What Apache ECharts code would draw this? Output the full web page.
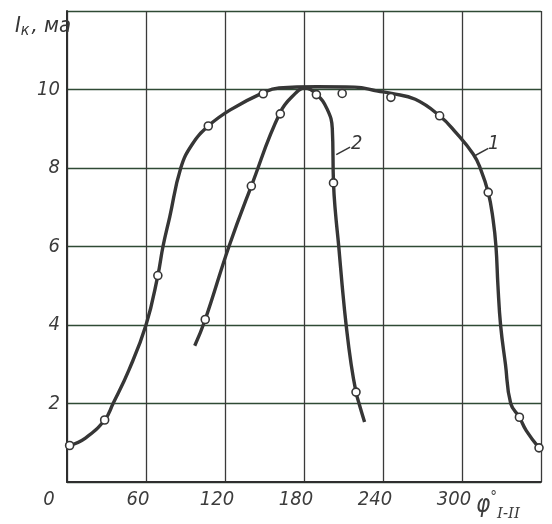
<!DOCTYPE html>
<html>
<head>
<meta charset="utf-8">
<script src="https://cdn.jsdelivr.net/npm/echarts@6/dist/echarts.min.js"></script>
<style>
  html, body { margin: 0; padding: 0; background: #fff; }
  #chart { width: 552px; height: 524px; }
</style>
</head>
<body>
<div id="chart"></div>
<script>
// curve 1: phase angle, degrees / Ik, mA
var curve1Deg = [2, 14, 28.6, 35, 47, 60, 69, 72.9, 78, 86.4, 95, 107.3, 124, 149, 161, 190, 218.5, 236, 246.5, 264.5, 283, 295.4, 308.6, 313.8, 319.9, 323.6, 325.8, 327.3, 329.3, 333, 337, 343.6, 348.8, 358.5];
var curve1Val = [0.93, 1.12, 1.58, 2.0, 2.85, 4.0, 5.26, 6.0, 6.75, 8.0, 8.6, 9.07, 9.48, 9.92, 10.04, 10.07, 10.06, 9.96, 9.9, 9.75, 9.33, 8.9, 8.35, 8.0, 7.38, 6.69, 6.0, 5.0, 4.0, 3.0, 2.0, 1.65, 1.31, 0.87];
var points1Deg = [2, 28.6, 69, 107.3, 149, 209, 246, 283, 319.9, 343.6, 358.5];
var points1Val = [0.93, 1.58, 5.26, 9.07, 9.89, 9.9, 9.8, 9.33, 7.38, 1.65, 0.87];

// curve 2
var curve2Deg = [97, 105, 123, 140, 162, 174, 180, 189.4, 197.6, 201.5, 202.4, 203.8, 206.4, 209, 212, 215.8, 219.5, 221.8, 226];
var curve2Val = [3.47, 4.14, 6.0, 7.54, 9.42, 9.92, 10.04, 9.88, 9.5, 9.0, 7.62, 6.9, 6.0, 5.0, 4.0, 3.0, 2.29, 2.0, 1.53];
var points2Deg = [105, 140, 162, 189.4, 202.4, 219.5];
var points2Val = [4.14, 7.54, 9.38, 9.87, 7.62, 2.29];

var xTicks = [0, 60, 120, 180, 240, 300, 360];
var yTicks = [2, 4, 6, 8, 10];

// curve number labels: [text, text x, text y, leader from x, y, leader to x, y]
var curveTags = [
    ['2', 220, 8.62, 204.5, 8.34, 215, 8.53],
    ['1', 324, 8.62, 309, 8.3, 320, 8.5]
];

function zip(a, b) {
    var out = [];
    for (var i = 0; i < a.length; i++) out.push([a[i], b[i]]);
    return out;
}

var ink = '#363636';
var font = "'DejaVu Sans Condensed', 'Liberation Sans Narrow', 'DejaVu Sans', sans-serif";

var chart = echarts.init(document.getElementById('chart'), null, {renderer: 'canvas'});

var lineStyle = {color: ink, width: 3.4};
var pointStyle = {color: '#fff', borderColor: ink, borderWidth: 1.6, opacity: 1};

chart.setOption({
    backgroundColor: '#ffffff',
    animation: false,
    grid: {left: 67, right: 11, top: 11, bottom: 42},
    title: {
        text: '{i|I}{k|к}{n|, ма}',
        left: 10,
        top: 8,
        textStyle: {
            fontWeight: 'normal',
            rich: {
                i: {fontFamily: font, fontStyle: 'italic', fontWeight: 'normal', fontSize: 22, color: ink},
                k: {fontFamily: font, fontStyle: 'italic', fontWeight: 'normal', fontSize: 16, color: ink, padding: [10, 2, 0, 0]},
                n: {fontFamily: font, fontStyle: 'italic', fontWeight: 'normal', fontSize: 22, color: ink}
            }
        }
    },
    xAxis: {
        type: 'value',
        min: 0,
        max: 360,
        interval: 60,
        axisLine: {show: true, lineStyle: {color: '#2e2e2e', width: 2}},
        axisTick: {show: false},
        splitLine: {show: true, lineStyle: {color: '#3a3a3a', width: 1.3}},
        axisLabel: {
            margin: 8,
            color: '#3c3c3c',
            fontFamily: font,
            fontStyle: 'italic',
            fontSize: 20,
            padding: [0, 16, 0, 0],
            formatter: function (v) {
                if (xTicks.indexOf(v) < 0) return '';
                if (v === 0) return '{z|0}';
                if (v === 360) return '{p|φ}{d|°}{s|I-II}';
                return String(v);
            },
            rich: {
                z: {fontFamily: font, fontStyle: 'italic', fontSize: 20, color: '#3c3c3c', padding: [0, 20, 0, 0]},
                p: {fontFamily: font, fontStyle: 'italic', fontSize: 24, color: '#3c3c3c'},
                d: {fontFamily: font, fontSize: 15, color: '#3c3c3c', padding: [0, 0, 16, 0]},
                s: {fontFamily: 'DejaVu Serif, serif', fontStyle: 'italic', fontSize: 15, color: '#3c3c3c', padding: [17, 70, 0, 0]}
            }
        }
    },
    yAxis: {
        type: 'value',
        min: 0,
        max: 12,
        interval: 2,
        axisLine: {show: true, lineStyle: {color: '#2e2e2e', width: 2}},
        axisTick: {show: false},
        splitLine: {show: true, lineStyle: {color: '#2f4a34', width: 1.3}},
        axisLabel: {
            margin: 7,
            color: '#3c3c3c',
            fontFamily: font,
            fontStyle: 'italic',
            fontSize: 20,
            formatter: function (v) {
                return yTicks.indexOf(v) < 0 ? '' : String(v);
            }
        }
    },
    series: [
        {
            name: 'curve1',
            type: 'line',
            data: zip(curve1Deg, curve1Val),
            smooth: 0.45,
            showSymbol: false,
            lineStyle: lineStyle,
            z: 3
        },
        {
            name: 'curve2',
            type: 'line',
            data: zip(curve2Deg, curve2Val),
            smooth: 0.45,
            showSymbol: false,
            lineStyle: lineStyle,
            z: 3
        },
        {
            name: 'points1',
            type: 'scatter',
            data: zip(points1Deg, points1Val),
            symbol: 'circle',
            symbolSize: 8,
            itemStyle: pointStyle,
            z: 5
        },
        {
            name: 'points2',
            type: 'scatter',
            data: zip(points2Deg, points2Val),
            symbol: 'circle',
            symbolSize: 8,
            itemStyle: pointStyle,
            z: 5
        }
    ]
});

// curve numbers with their leader strokes
var tags = [];
curveTags.forEach(function (t) {
    var p = chart.convertToPixel({gridIndex: 0}, [t[1], t[2]]);
    var a = chart.convertToPixel({gridIndex: 0}, [t[3], t[4]]);
    var b = chart.convertToPixel({gridIndex: 0}, [t[5], t[6]]);
    tags.push({
        type: 'line',
        shape: {x1: a[0], y1: a[1], x2: b[0], y2: b[1]},
        style: {stroke: ink, lineWidth: 1.5},
        z: 10
    });
    tags.push({
        type: 'text',
        x: p[0],
        y: p[1],
        style: {
            text: t[0],
            fill: ink,
            font: 'italic 20px ' + font,
            align: 'center',
            verticalAlign: 'middle'
        },
        z: 10
    });
});
chart.setOption({graphic: tags});
</script>
</body>
</html>
